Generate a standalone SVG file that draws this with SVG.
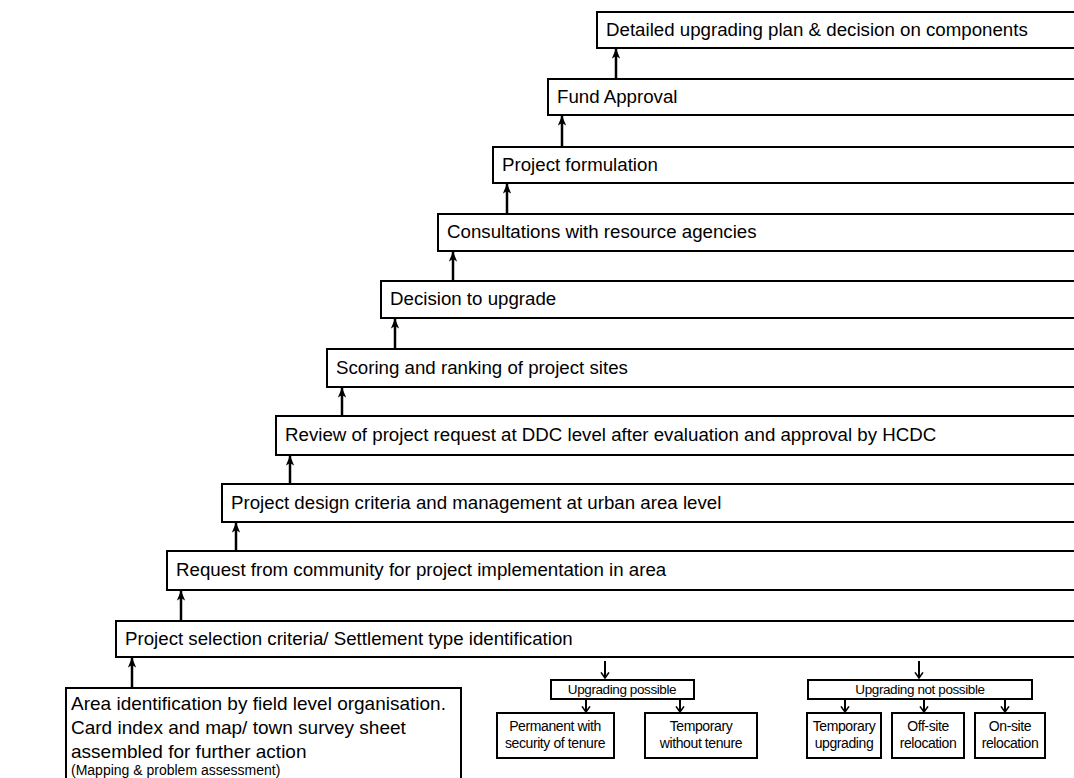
<svg xmlns="http://www.w3.org/2000/svg" width="1074" height="778" viewBox="0 0 1074 778">
  <defs>
    <style>
      .step rect { fill: #fff; stroke: #000; stroke-width: 2; }
      .step text { font-family: "Liberation Sans", Arial, sans-serif; font-size: 18.7px; fill: #000; }
      .area rect { fill: #fff; stroke: #000; stroke-width: 2; }
      .area text { font-family: "Liberation Sans", Arial, sans-serif; font-size: 19px; fill: #000; }
      .area text.note { font-size: 14px; }
      .opt rect { fill: #fff; stroke: #000; stroke-width: 2; }
      .opt text { font-family: "Liberation Sans", Arial, sans-serif; font-size: 14px; fill: #000; text-anchor: middle; letter-spacing: -0.4px; }
      .opt text.head { font-size: 13.5px; }
      .up { stroke: #000; stroke-width: 2.5; fill: none; marker-end: url(#headUp); }
      .down { stroke: #000; stroke-width: 2; fill: none; marker-end: url(#headDown); }
    </style>
    <!-- filled head drawn along +x, rotated to follow the line -->
    <marker id="headUp" viewBox="0 0 12 10" refX="11.5" refY="5" markerWidth="4" markerHeight="3.4" markerUnits="strokeWidth" orient="auto">
      <path d="M0,0 L12,5 L0,10 L3,5 Z" fill="#000"/>
    </marker>
    <!-- open V head -->
    <marker id="headDown" viewBox="0 0 10 12" refX="9" refY="6" markerWidth="4" markerHeight="5" markerUnits="strokeWidth" orient="auto">
      <path d="M2,1 L9,6 L2,11" fill="none" stroke="#000" stroke-width="2"/>
    </marker>
  </defs>

  <!-- sequence of steps, each box runs off the right edge -->
  <g id="step-detailed" class="step">
    <rect x="597" y="12" width="500" height="36"/>
    <text x="606" y="36">Detailed upgrading plan &amp; decision on components</text>
  </g>
  <g id="step-fund" class="step">
    <rect x="548" y="79" width="550" height="36"/>
    <text x="557" y="103">Fund Approval</text>
  </g>
  <g id="step-formulation" class="step">
    <rect x="493" y="147" width="600" height="36"/>
    <text x="502" y="171">Project formulation</text>
  </g>
  <g id="step-consultations" class="step">
    <rect x="438" y="214" width="650" height="37"/>
    <text x="447" y="238">Consultations with resource agencies</text>
  </g>
  <g id="step-decision" class="step">
    <rect x="381" y="281" width="700" height="37"/>
    <text x="390" y="305">Decision to upgrade</text>
  </g>
  <g id="step-scoring" class="step">
    <rect x="327" y="349" width="760" height="38"/>
    <text x="336" y="374">Scoring and ranking of project sites</text>
  </g>
  <g id="step-review" class="step">
    <rect x="276" y="416" width="810" height="39"/>
    <text x="285" y="441">Review of project request at DDC level after evaluation and approval by HCDC</text>
  </g>
  <g id="step-design" class="step">
    <rect x="222" y="484" width="860" height="38"/>
    <text x="231" y="509">Project design criteria and management at urban area level</text>
  </g>
  <g id="step-request" class="step">
    <rect x="167" y="551" width="920" height="39"/>
    <text x="176" y="576">Request from community for project implementation in area</text>
  </g>
  <g id="step-selection" class="step">
    <rect x="116" y="621" width="970" height="36"/>
    <text x="125" y="645">Project selection criteria/ Settlement type identification</text>
  </g>

  <!-- starting box, runs off the bottom edge -->
  <g id="step-area" class="area">
    <rect x="66" y="688" width="395" height="100"/>
    <text x="71" y="710">Area identification by field level organisation.</text>
    <text x="71" y="734">Card index and map/ town survey sheet</text>
    <text x="71" y="758">assembled for further action</text>
    <text class="note" x="71" y="775">(Mapping &amp; problem assessment)</text>
  </g>

  <!-- settlement options -->
  <g id="opt-possible" class="opt">
    <rect x="551" y="680" width="143" height="19"/>
    <text class="head" x="622" y="694">Upgrading possible</text>
  </g>
  <g id="opt-permanent" class="opt">
    <rect x="497" y="713" width="117" height="45"/>
    <text x="555" y="731">Permanent with</text>
    <text x="555" y="748">security of tenure</text>
  </g>
  <g id="opt-temporary" class="opt">
    <rect x="645" y="713" width="112" height="45"/>
    <text x="701" y="731">Temporary</text>
    <text x="701" y="748">without tenure</text>
  </g>
  <g id="opt-not-possible" class="opt">
    <rect x="808" y="680" width="224" height="19"/>
    <text class="head" x="920" y="694">Upgrading not possible</text>
  </g>
  <g id="opt-temp-upgrading" class="opt">
    <rect x="807" y="713" width="74" height="45"/>
    <text x="844" y="731">Temporary</text>
    <text x="844" y="748">upgrading</text>
  </g>
  <g id="opt-offsite" class="opt">
    <rect x="892" y="713" width="72" height="45"/>
    <text x="928" y="731">Off-site</text>
    <text x="928" y="748">relocation</text>
  </g>
  <g id="opt-onsite" class="opt">
    <rect x="975" y="713" width="70" height="45"/>
    <text x="1010" y="731">On-site</text>
    <text x="1010" y="748">relocation</text>
  </g>

  <g id="connectors">
    <path class="up" d="M132,688 V658"/>
    <path class="up" d="M181,621 V591"/>
    <path class="up" d="M236,551 V523"/>
    <path class="up" d="M290,484 V456"/>
    <path class="up" d="M342,416 V388"/>
    <path class="up" d="M395,349 V319"/>
    <path class="up" d="M453,281 V252"/>
    <path class="up" d="M507,214 V184"/>
    <path class="up" d="M562,147 V116"/>
    <path class="up" d="M616,79 V49"/>

    <path class="down" d="M605,661 V678"/>
    <path class="down" d="M586,700 V712"/>
    <path class="down" d="M680,700 V712"/>
    <path class="down" d="M919,661 V678"/>
    <path class="down" d="M845,700 V712"/>
    <path class="down" d="M924,700 V712"/>
    <path class="down" d="M1005,700 V712"/>
  </g>
</svg>
